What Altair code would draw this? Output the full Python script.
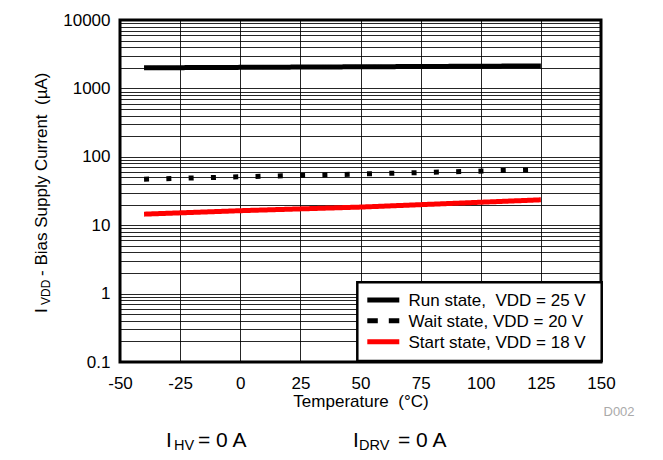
import altair as alt
import pandas as pd

FONT = "Liberation Sans"
NB = "\u00a0"

# ---- data ----
series_names = [f"Run state,{NB} VDD = 25 V", "Wait state, VDD = 20 V", "Start state, VDD = 18 V"]
series_colors = ["#000000", "#000000", "#ff0000"]
series_dash = [[1, 0], [5, 17.3], [1, 0]]
legend_dash = [[1, 0], [10.5, 11], [1, 0]]

run_temp = [-40, 0, 50, 125]
run_current = [2000, 2030, 2070, 2130]
wait_temp = [-40, 0, 50, 125]
wait_current = [47, 51, 56, 65]
start_temp = [-40, 0, 50, 125]
start_current = [14.5, 16.3, 18.4, 23.5]

x_ticks = [-50, -25, 0, 25, 50, 75, 100, 125, 150]
y_major = [0.1, 1, 10, 100, 1000, 10000]
y_grid = sorted(set([round(k * 10.0 ** e, 6) for e in range(-1, 4) for k in range(1, 10)] + [10000]))

rows = []
for name, ts, vs in zip(series_names, [run_temp, wait_temp, start_temp],
                        [run_current, wait_current, start_current]):
    for t, v in zip(ts, vs):
        rows.append({"series": name, "temp": t, "current": v})
df = pd.DataFrame(rows)

lines = alt.Chart(df).mark_line(strokeCap="butt", strokeWidth=5).encode(
    x=alt.X("temp:Q",
            scale=alt.Scale(domain=[-50, 150], nice=False),
            axis=alt.Axis(values=x_ticks, title=f"Temperature{NB} (°C)", grid=True,
                          ticks=False, tickSize=0, domain=False, labelPadding=13.5,
                          titlePadding=2, labelFlush=False, labelOverlap=False,
                          labelExpr="'' + datum.value")),
    y=alt.Y("current:Q",
            scale=alt.Scale(type="log", domain=[0.1, 10000], nice=False),
            axis=alt.Axis(values=y_grid, title=None, grid=True, ticks=False, tickSize=0,
                          domain=False, labelPadding=10, labelFlush=False, labelOverlap=False,
                          labelExpr="indexof([0.1, 1, 10, 100, 1000, 10000], datum.value) >= 0 ? format(datum.value, '~g') : ''")),
    color=alt.Color("series:N", scale=alt.Scale(domain=series_names, range=series_colors), legend=None),
    strokeDash=alt.StrokeDash("series:N", scale=alt.Scale(domain=series_names, range=series_dash), legend=None),
    order="temp:Q",
)

one = pd.DataFrame({"a": [0]})


def txt(text, x, y, size, angle=0, color="black"):
    kw = dict(text=text, font=FONT, fontSize=size, align="left", baseline="alphabetic", color=color)
    if angle:
        kw["angle"] = angle
    return alt.Chart(one).mark_text(**kw).encode(x=alt.value(x), y=alt.value(y))


# ---- legend box (drawn by hand to match the reference) ----
legend_layers = [
    alt.Chart(one).mark_rect(fill="white", stroke="black", strokeWidth=2.5).encode(
        x=alt.value(237.3), x2=alt.value(481.7), y=alt.value(262.3), y2=alt.value(341)),
]
row_y = [280, 300.7, 321.7]
for name, col, dash, ry in zip(series_names, series_colors, legend_dash, row_y):
    legend_layers.append(
        alt.Chart(one).mark_rule(color=col, strokeWidth=5, strokeDash=dash, strokeCap="butt").encode(
            x=alt.value(247.3), x2=alt.value(279.3), y=alt.value(ry)))
    legend_layers.append(txt(name, 288.5, ry + 6.1, 17))

annotations = [
    # y axis title with subscript
    txt("I", -73.3, 293, 17, 270),
    txt("VDD", -70, 285, 12, 270),
    txt(f"- Bias Supply Current{NB} (µA)", -73.3, 256, 17, 270),
    # bottom conditions
    txt("I", 46, 427.3, 21),
    txt("HV", 54, 430, 14.5),
    txt("= 0 A", 78, 427.3, 21),
    txt("I", 233, 427.3, 21),
    txt("DRV", 239, 430, 14.5),
    txt("= 0 A", 278, 427.3, 21),
    # figure id
    txt("D002", 483.5, 396, 13, color="#aaaaaa"),
]

chart = alt.layer(lines, *legend_layers, *annotations).properties(
    width=481, height=342,
    autosize=alt.AutoSizeParams(type="none"),
    padding={"left": 112, "top": 12, "right": 54, "bottom": 90},
    background="white",
).configure_view(
    stroke="black", strokeWidth=3
).configure_axis(
    labelFont=FONT, labelFontSize=17, labelColor="black",
    titleFont=FONT, titleFontSize=17, titleFontWeight="normal", titleColor="black",
    gridColor="black", gridWidth=1, gridOpacity=0.85,
)

chart.save("out.html", embed_options={"renderer": "svg", "actions": False})
